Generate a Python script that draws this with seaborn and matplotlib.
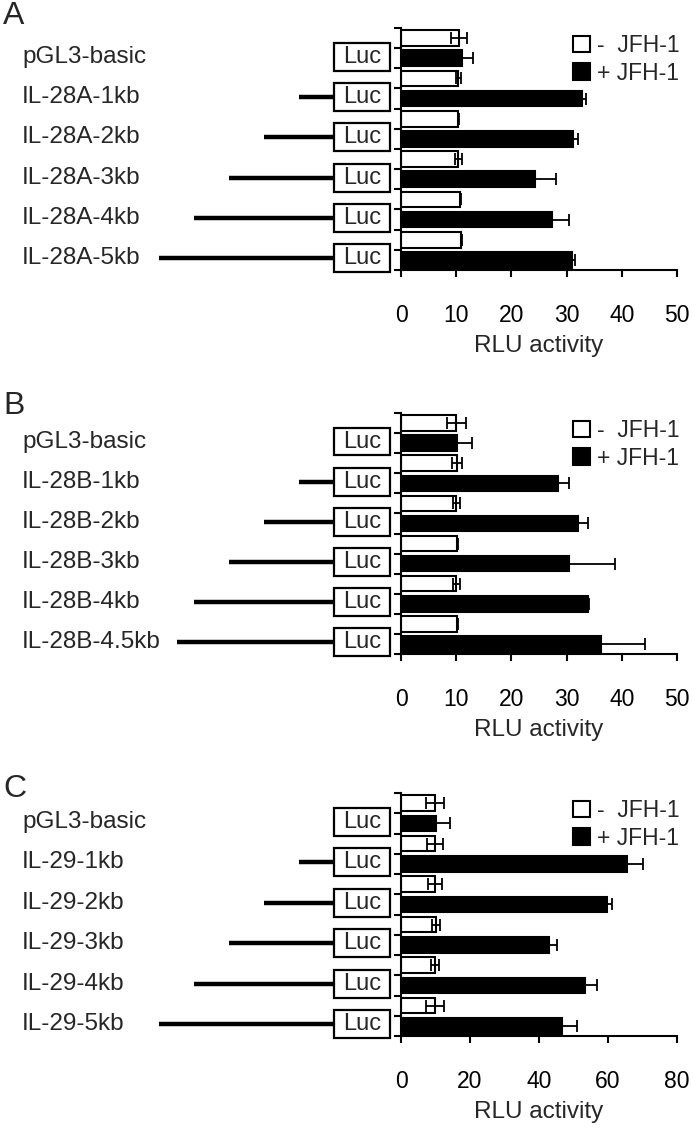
import numpy as np
import pandas as pd
import matplotlib
matplotlib.use("Agg")
import matplotlib.pyplot as plt
from matplotlib.patches import Rectangle, Patch
import seaborn as sns

# ---------------- data ----------------
constructs_A = ["pGL3-basic", "IL-28A-1kb", "IL-28A-2kb", "IL-28A-3kb", "IL-28A-4kb", "IL-28A-5kb"]
kb_A = [0, 1, 2, 3, 4, 5]
neg_A = [10.5, 10.4, 10.4, 10.4, 10.7, 10.9]
neg_err_A = [1.5, 0.5, 0.1, 0.7, 0.1, 0.1]
pos_A = [11.0, 32.8, 31.2, 24.3, 27.4, 30.9]
pos_err_A = [2.0, 0.7, 0.8, 3.7, 3.0, 0.7]

constructs_B = ["pGL3-basic", "IL-28B-1kb", "IL-28B-2kb", "IL-28B-3kb", "IL-28B-4kb", "IL-28B-4.5kb"]
kb_B = [0, 1, 2, 3, 4, 4.5]
neg_B = [10.0, 10.1, 10.0, 10.2, 10.0, 10.2]
neg_err_B = [1.7, 0.9, 0.6, 0.1, 0.6, 0.1]
pos_B = [10.1, 28.5, 32.1, 30.5, 33.8, 36.2]
pos_err_B = [2.7, 2.0, 1.8, 8.3, 0.2, 8.0]

constructs_C = ["pGL3-basic", "IL-29-1kb", "IL-29-2kb", "IL-29-3kb", "IL-29-4kb", "IL-29-5kb"]
kb_C = [0, 1, 2, 3, 4, 5]
neg_C = [9.9, 9.9, 9.9, 10.2, 9.9, 9.9]
neg_err_C = [2.6, 2.4, 2.1, 1.2, 1.1, 2.6]
pos_C = [10.2, 65.4, 59.7, 43.0, 53.4, 46.8]
pos_err_C = [3.9, 4.6, 1.4, 2.2, 3.4, 4.2]

panel_letters = ["A", "B", "C"]
x_max = [50, 50, 80]
x_step = [10, 10, 20]
legend_labels = ["-  JFH-1", "+ JFH-1"]
xlabel = "RLU activity"

# ---------------- style ----------------
sns.set_theme(style="ticks")
plt.rcParams['font.family'] = ['Liberation Sans', 'DejaVu Sans']

W, H = 693, 1131
fig = plt.figure(figsize=(W / 100, H / 100), dpi=100)

# pixel extents of bar axes (top, bottom)
panel_tops = [28, 413, 793]
panel_bottoms = [270, 654, 1036]
ax_left_px, ax_right_px = 401, 677
letter_y = [16, 406, 789]

px_per_kb = 35.0
box_left_px = 334
box_w_kb = 56 / px_per_kb

panels = [
    (constructs_A, kb_A, neg_A, neg_err_A, pos_A, pos_err_A),
    (constructs_B, kb_B, neg_B, neg_err_B, pos_B, pos_err_B),
    (constructs_C, kb_C, neg_C, neg_err_C, pos_C, pos_err_C),
]

for p, (names, kbs, neg, negerr, pos, poserr) in enumerate(panels):
    top, bot = panel_tops[p], panel_bottoms[p]
    rect = [ax_left_px / W, 1 - bot / H, (ax_right_px - ax_left_px) / W, (bot - top) / H]
    ax = fig.add_axes(rect)

    rows, vals, errs, conds = [], [], [], []
    for i, n in enumerate(names):
        rows += [n + " -", n + " +"]
        vals += [neg[i], pos[i]]
        errs += [negerr[i], poserr[i]]
        conds += [legend_labels[0], legend_labels[1]]
    df = pd.DataFrame({"row": rows, "value": vals, "err": errs, "cond": conds})

    sns.barplot(data=df, x="value", y="row", hue="cond",
                palette={legend_labels[0]: "white", legend_labels[1]: "black"},
                dodge=False, width=0.77, edgecolor="black", linewidth=1.5,
                errorbar=None, legend=False, ax=ax)
    ax.errorbar(df["value"], np.arange(len(df)), xerr=df["err"], fmt="none",
                ecolor="black", elinewidth=1.3, capsize=4.3, capthick=1.3, zorder=1.5)

    ax.set_xlim(0, x_max[p])
    ax.set_xticks(np.arange(0, x_max[p] + 1, x_step[p]))
    ax.set_ylim(len(df) - 0.5, -0.5)
    ax.set_yticks(np.arange(-0.5, len(df), 1))
    ax.set_yticklabels([])
    ax.set_ylabel("")
    ax.set_xlabel(xlabel, fontsize=17.5, labelpad=6)
    sns.despine(ax=ax)
    for s in ("left", "bottom"):
        ax.spines[s].set_linewidth(1.5)
        ax.spines[s].set_color("black")
    ax.tick_params(axis="x", direction="out", length=5, width=1.5, pad=19.5,
                   labelsize=16.5, colors="black")
    ax.tick_params(axis="y", direction="out", length=5, width=1.5, colors="black")

    handles = [Patch(facecolor="white", edgecolor="black", linewidth=1.5, label=legend_labels[0]),
               Patch(facecolor="black", edgecolor="black", linewidth=1.5, label=legend_labels[1])]
    ax.legend(handles=handles, loc="upper left", bbox_to_anchor=(0.623, 0.975),
              frameon=False, fontsize=16.5, handlelength=0.75, handleheight=0.75,
              handletextpad=0.3, labelspacing=0.2, borderpad=0, borderaxespad=0)

    # construct diagram axes on the left
    axl = fig.add_axes([0, rect[1], ax_left_px / W, rect[3]])
    axl.set_xlim(-box_left_px / px_per_kb, (ax_left_px - box_left_px) / px_per_kb)
    axl.set_ylim(len(df) - 0.5, -0.5)
    axl.axis("off")
    for i, n in enumerate(names):
        yc = 2 * i + 0.5 + 0.42
        if kbs[i] > 0:
            axl.hlines(yc, -kbs[i], 0, color="black", lw=3.2, capstyle="butt")
        axl.add_patch(Rectangle((0, yc - 0.69), box_w_kb, 1.38, facecolor="white",
                                edgecolor="black", lw=1.6, clip_on=False, zorder=3))
        axl.text(box_w_kb / 2, yc, "Luc", ha="center", va="center", fontsize=17, zorder=4)
        axl.text((22 - box_left_px) / px_per_kb, yc, n, ha="left", va="center", fontsize=17.5)

    fig.text(3 / W, 1 - letter_y[p] / H, panel_letters[p], ha="left", va="center", fontsize=23)

fig.savefig("out.png", dpi=100)
